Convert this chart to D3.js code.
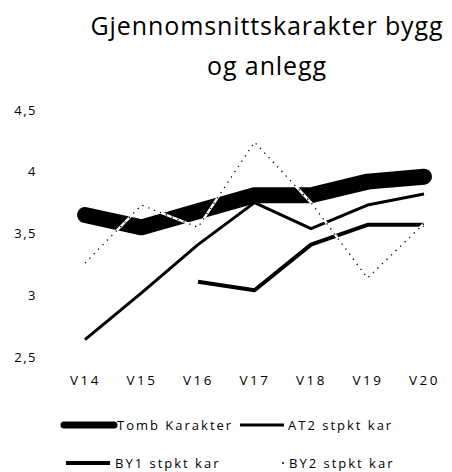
<!DOCTYPE html>
<html><head><meta charset="utf-8">
<script src="https://cdn.jsdelivr.net/npm/d3@7"></script>
<style>body{margin:0;background:#fff}</style>
</head><body>
<svg id="c" width="452" height="472"></svg>
<script>
const categories = ["V14","V15","V16","V17","V18","V19","V20"];
const tombKarakter = [3.65, 3.55, 3.68, 3.81, 3.81, 3.92, 3.96];
const at2 = [2.64, 3.02, 3.41, 3.75, 3.54, 3.73, 3.82];
const by1 = [null, null, 3.11, 3.04, 3.41, 3.57, 3.57];
const by2 = [3.26, 3.73, 3.55, 4.24, 3.75, 3.14, 3.58];
const yTicks = [2.5, 3, 3.5, 4, 4.5];
const titleLines = ["Gjennomsnittskarakter bygg", "og anlegg"];
const legendNames = ["Tomb Karakter", "AT2 stpkt kar", "BY1 stpkt kar", "BY2 stpkt kar"];

const svg = d3.select("#c");
const x = d3.scalePoint(categories, [85, 424]);
const y = d3.scaleLinear([2.5, 4.5], [357, 110]);
const smallFont = "'Open Sans', sans-serif";

// title
svg.append("text").attr("x", 267).attr("text-anchor", "middle")
  .attr("font-family", smallFont).attr("font-size", 25).attr("letter-spacing", 0.9).attr("fill", "#000")
  .selectAll("tspan").data(titleLines).join("tspan")
  .attr("x", 267).attr("y", (d, i) => 35 + i * 40).text(d => d);

// axes
const ya = svg.append("g").attr("transform", "translate(37,0)")
  .call(d3.axisLeft(y).tickValues(yTicks).tickSize(0).tickPadding(0)
    .tickFormat(d => String(d).replace(".", ",")));
ya.select(".domain").remove();
ya.selectAll("text").attr("font-family", smallFont).attr("font-size", 13)
  .attr("letter-spacing", 1.5).attr("fill", "#000");

const xa = svg.append("g").attr("transform", "translate(0,375)")
  .call(d3.axisBottom(x).tickSize(0).tickPadding(0));
xa.select(".domain").remove();
xa.selectAll("text").attr("font-family", smallFont).attr("font-size", 13.5)
  .attr("letter-spacing", 2.5).attr("fill", "#000");

const line = d3.line().defined(d => d[1] != null)
  .x(d => x(d[0])).y(d => y(d[1]));
const pts = arr => categories.map((c, i) => [c, arr[i]]);

svg.append("path").attr("d", line(pts(tombKarakter))).attr("fill", "none")
  .attr("stroke", "#000").attr("stroke-width", 16)
  .attr("stroke-linecap", "round").attr("stroke-linejoin", "round");
svg.append("path").attr("d", line(pts(at2))).attr("fill", "none")
  .attr("stroke", "#000").attr("stroke-width", 3).attr("stroke-linejoin", "round");
svg.append("path").attr("d", line(pts(by1))).attr("fill", "none")
  .attr("stroke", "#000").attr("stroke-width", 4).attr("stroke-linejoin", "round");
svg.append("path").attr("d", line(pts(by2))).attr("fill", "none")
  .attr("stroke", "#fff").attr("stroke-width", 2.5);
svg.append("path").attr("d", line(pts(by2))).attr("fill", "none")
  .attr("stroke", "#000").attr("stroke-width", 1.3).attr("stroke-dasharray", "1.3,5");

// legend
const leg = [
  {name: legendNames[0], x1: 64, x2: 114, y: 425, w: 7, cap: "round", tx: 117},
  {name: legendNames[1], x1: 240, x2: 284, y: 425, w: 3, cap: "butt", tx: 288},
  {name: legendNames[2], x1: 66, x2: 110, y: 463, w: 4, cap: "butt", tx: 115},
  {name: legendNames[3], x1: 282, x2: 284, y: 463, w: 1.5, cap: "butt", tx: 289}
];
const lg = svg.append("g").selectAll("g").data(leg).join("g");
lg.append("line").attr("x1", d => d.x1).attr("x2", d => d.x2)
  .attr("y1", d => d.y).attr("y2", d => d.y)
  .attr("stroke", "#000").attr("stroke-width", d => d.w).attr("stroke-linecap", d => d.cap);
lg.append("text").attr("x", d => d.tx).attr("y", d => d.y).attr("dy", "0.35em")
  .attr("font-family", smallFont).attr("font-size", 13).attr("letter-spacing", 2)
  .attr("fill", "#000").text(d => d.name);
</script>
</body></html>
